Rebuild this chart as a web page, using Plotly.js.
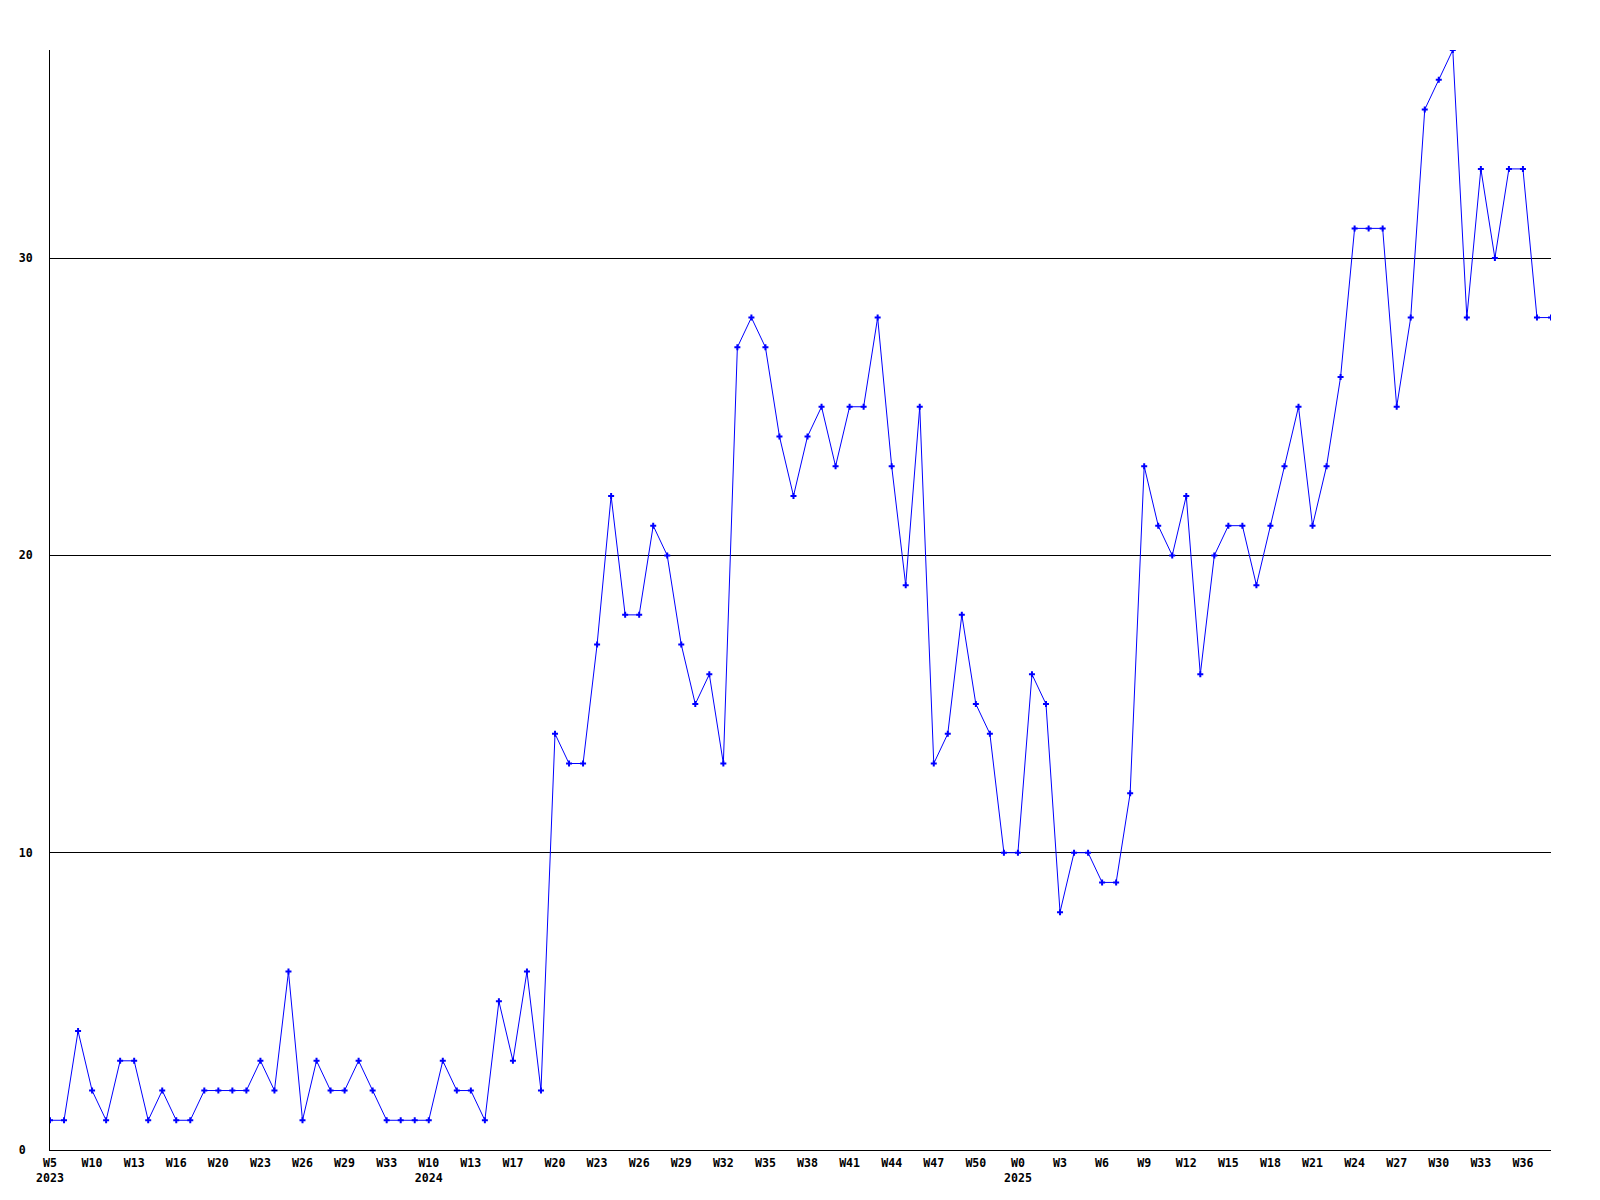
<!DOCTYPE html>
<html>
<head>
<meta charset="utf-8">
<script src="https://cdn.plot.ly/plotly-3.0.1.min.js"></script>
<style>html,body{margin:0;padding:0;background:#fff;}</style>
</head>
<body>
<div id="chart" style="width:1600px;height:1200px;"></div>
<script>
// Weekly values, in order (108 weeks, 2023 W5 ... 2025 W37)
const values = [
  1,1,4,2,1,3,3,1,2,1,
  1,2,2,2,2,3,2,6,1,3,
  2,2,3,2,1,1,1,1,3,2,
  2,1,5,3,6,2,14,13,13,17,
  22,18,18,21,20,17,15,16,13,27,
  28,27,24,22,24,25,23,25,25,28,
  23,19,25,13,14,18,15,14,10,10,
  16,15,8,10,10,9,9,12,23,21,
  20,22,16,20,21,21,19,21,23,25,
  21,23,26,31,31,31,25,28,35,36,
  37,28,33,30,33,33,28,28
];
// One tick label every 3 weeks
const tickLabels = [
  "W5<br>2023","W10","W13","W16","W20","W23","W26","W29","W33",
  "W10<br>2024","W13","W17","W20","W23","W26","W29","W32","W35","W38",
  "W41","W44","W47","W50","W0<br>2025","W3","W6","W9","W12","W15",
  "W18","W21","W24","W27","W30","W33","W36"
];
const tickStep = 3;
const yTickVals = [0, 10, 20, 30];
const yTickText = ["0\u00a0", "10", "20", "30"];

const xIdx = values.map((_, i) => i);
const xTickVals = tickLabels.map((_, i) => i * tickStep);

const font = {family: "DejaVu Sans Mono, monospace", size: 11.6, color: "#000", weight: "bold"};

const trace = {
  x: xIdx,
  y: values,
  type: "scatter",
  mode: "lines+markers",
  line: {color: "#0000ff", width: 1},
  marker: {symbol: "cross", size: 5, color: "#0000ff", line: {width: 0}},
  hoverinfo: "x+y"
};

const layout = {
  width: 1600,
  height: 1200,
  margin: {l: 50, r: 49, t: 50, b: 50, pad: 0},
  paper_bgcolor: "#fff",
  plot_bgcolor: "#fff",
  showlegend: false,
  font: font,
  xaxis: {
    range: [0, values.length - 1],
    tickmode: "array",
    tickvals: xTickVals,
    ticktext: tickLabels,
    tickangle: 0,
    showgrid: false,
    zeroline: false,
    showline: true,
    linecolor: "#000",
    linewidth: 1,
    ticks: "",
    tickfont: font,
    ticklabelstandoff: 2
  },
  yaxis: {
    range: [0, 37],
    tickmode: "array",
    tickvals: yTickVals,
    ticktext: yTickText,
    showgrid: true,
    gridcolor: "#000",
    gridwidth: 1,
    zeroline: false,
    showline: true,
    linecolor: "#000",
    linewidth: 1,
    ticks: "",
    tickfont: font,
    ticklabelstandoff: 14
  }
};

Plotly.newPlot("chart", [trace], layout, {displayModeBar: false, staticPlot: true});
</script>
</body>
</html>
